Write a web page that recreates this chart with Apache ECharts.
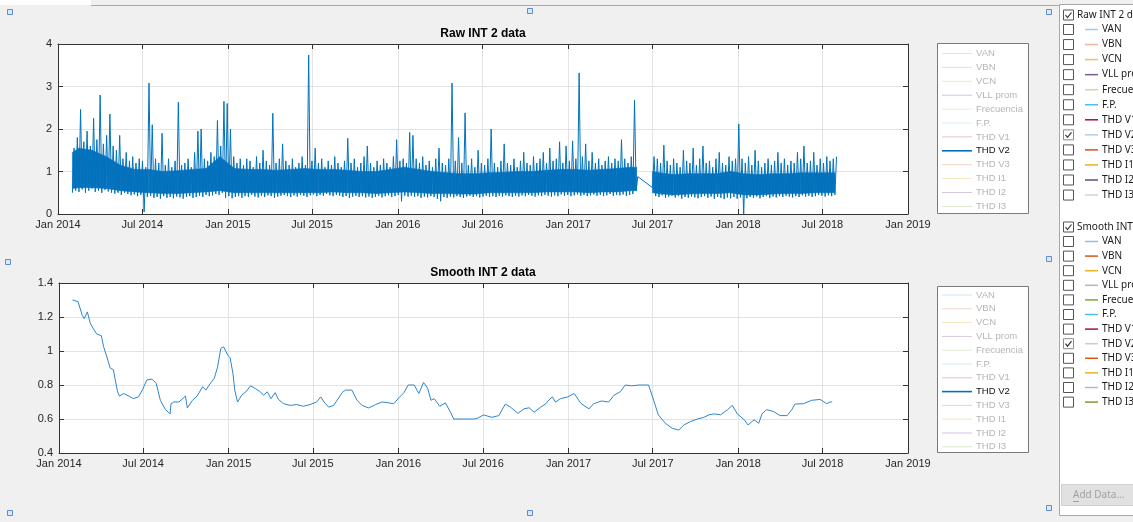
<!DOCTYPE html>
<html><head><meta charset="utf-8">
<script src="https://cdn.jsdelivr.net/npm/echarts@6/dist/echarts.min.js"></script>
<style>html,body{margin:0;padding:0;background:#f0f0f0;overflow:hidden}#c{width:1133px;height:522px}</style>
</head><body><div id="c"></div><script>
// ---------- DATA ----------
const xTickDates = ['2014-01-01','2014-07-01','2015-01-01','2015-07-01','2016-01-01','2016-07-01','2017-01-01','2017-07-01','2018-01-01','2018-07-01','2019-01-01'];
const xTickLabels = ['Jan 2014','Jul 2014','Jan 2015','Jul 2015','Jan 2016','Jul 2016','Jan 2017','Jul 2017','Jan 2018','Jul 2018','Jan 2019'];
const rawTitle = 'Raw INT 2 data';
const smoothTitle = 'Smooth INT 2 data';

// raw series, weekly low/high samples (segment A: from 2014-02-01, segment B: from 2017-07-01)
const rawStartA = '2014-02-01';
const rawLowA = [
 0.5,0.55,0.52,0.58,0.5,0.55,0.6,0.52,0.55,0.5,0.57,0.53,0.5,
 0.48,0.5,0.45,0.5,0.47,0.44,0.46,0.42,0.45,0.05,0.4,0.43,0.38,
 0.4,0.36,0.42,0.38,0.4,0.37,0.41,0.39,0.36,0.4,0.42,0.38,0.4,
 0.43,0.4,0.45,0.42,0.44,0.47,0.45,0.5,0.38,0.42,0.37,0.4,0.42,
 0.38,0.42,0.4,0.45,0.41,0.39,0.43,0.4,0.44,0.42,0.38,0.41,0.43,
 0.45,0.42,0.4,0.44,0.41,0.45,0.43,0.4,0.44,0.46,0.42,0.45,0.43,
 0.47,0.44,0.42,0.45,0.43,0.4,0.42,0.38,0.41,0.43,0.4,0.42,0.39,
 0.41,0.38,0.4,0.43,0.39,0.42,0.44,0.4,0.42,0.45,0.3,0.43,0.41,
 0.43,0.4,0.42,0.38,0.41,0.39,0.42,0.4,0.36,0.3,0.4,0.38,0.41,
 0.39,0.42,0.4,0.38,0.41,0.43,0.4,0.42,0.39,0.41,0.43,0.4,0.42,
 0.4,0.43,0.41,0.44,0.42,0.4,0.43,0.41,0.44,0.42,0.45,0.43,0.41,
 0.44,0.42,0.45,0.43,0.41,0.44,0.42,0.46,0.43,0.45,0.42,0.44,0.46,
 0.43,0.45,0.42,0.44,0.46,0.43,0.45,0.42,0.44,0.47,0.43,0.45,0.44,
 0.46,0.43,0.45,0.47,0.55];
const rawHighA = [
 1.55,1.8,2.46,1.7,1.95,1.6,2.25,1.75,2.8,1.65,1.85,2.35,1.6,
 1.5,1.85,1.3,1.45,1.25,1.35,1.2,1.3,1.25,1.1,3.08,2.1,1.3,
 1.2,1.9,1.15,1.3,1.1,1.25,2.63,1.15,1.2,1.3,1.1,1.45,1.95,
 2.0,1.3,1.25,1.45,1.35,2.2,1.6,2.65,2.6,2.0,1.35,1.2,1.3,
 1.15,1.3,1.25,1.1,1.35,1.2,1.5,1.25,1.15,2.37,1.2,1.3,1.65,
 1.25,1.15,1.3,1.1,1.2,1.35,1.15,3.74,1.25,1.55,1.2,1.3,1.1,
 1.25,1.15,1.35,1.2,1.1,1.25,1.78,1.2,1.3,1.1,1.2,1.35,1.6,
 1.2,1.1,1.25,1.15,1.3,1.2,1.1,1.35,1.75,1.25,1.3,1.2,1.92,
 1.85,1.3,1.2,1.35,1.15,1.25,1.1,1.3,1.55,1.2,1.15,1.3,3.08,
 1.25,1.8,1.2,2.38,1.15,1.3,1.1,1.5,1.2,1.15,1.3,2.0,1.2,
 1.1,1.25,1.65,1.2,1.15,1.3,1.1,1.25,1.45,1.2,1.15,1.35,1.2,
 1.3,1.45,1.2,1.55,1.25,1.3,1.7,1.2,1.6,1.25,1.72,1.3,3.32,
 1.35,1.65,1.25,1.45,1.2,1.3,1.15,1.25,1.35,1.2,1.3,1.25,1.75,
 1.3,1.2,1.35,2.68,0.88];
const rawStartB = '2017-07-01';
const rawLowB = [
 0.62,0.42,0.4,0.44,0.38,0.41,0.43,0.39,0.42,0.36,0.4,0.38,0.41,
 0.39,0.37,0.4,0.42,0.38,0.41,0.36,0.4,0.38,0.35,0.39,0.37,0.4,
 0.36,0.39,0.0,0.37,0.4,0.38,0.41,0.37,0.4,0.42,0.38,0.41,0.39,
 0.42,0.4,0.43,0.41,0.39,0.42,0.4,0.44,0.41,0.43,0.4,0.42,0.45,
 0.43,0.41,0.44,0.42,0.45];
const rawHighB = [
 1.35,1.3,1.2,1.62,1.25,1.15,1.3,1.2,1.1,1.5,1.25,1.2,1.55,
 1.15,1.3,1.6,1.2,1.25,1.1,1.3,1.45,1.2,1.15,1.35,1.25,1.3,
 2.12,1.3,1.2,1.35,1.15,1.5,1.25,1.1,1.2,1.3,1.15,1.25,1.45,
 1.2,1.3,1.15,1.25,1.2,1.45,1.3,1.6,1.2,1.25,1.45,1.15,1.3,
 1.2,1.35,1.25,1.3,1.35];

// dense core of the raw band (where the samples overlap into solid blue), monthly; null = no data
const rawCoreDates = [
 '2014-02-01','2014-02-15','2014-03-15','2014-04-15','2014-05-15','2014-06-15','2014-07-15','2014-08-15','2014-09-15','2014-10-15','2014-11-15','2014-12-15',
 '2015-01-15','2015-02-15','2015-03-15','2015-04-15','2015-05-15','2015-06-15','2015-07-15','2015-08-15','2015-09-15','2015-10-15','2015-11-15','2015-12-15',
 '2016-01-15','2016-02-15','2016-03-15','2016-04-15','2016-05-15','2016-06-15','2016-07-15','2016-08-15','2016-09-15','2016-10-15','2016-11-15','2016-12-15',
 '2017-01-15','2017-02-15','2017-03-15','2017-04-15','2017-05-15','2017-05-28','2017-06-15','2017-07-01','2017-07-15','2017-08-15','2017-09-15','2017-10-15','2017-11-15','2017-12-15',
 '2018-01-15','2018-02-15','2018-03-15','2018-04-15','2018-05-15','2018-06-15','2018-07-15','2018-07-28'];
const rawCoreLow = [
 0.6,0.62,0.62,0.6,0.55,0.52,0.5,0.48,0.48,0.5,0.52,0.55,
 0.5,0.5,0.5,0.5,0.5,0.5,0.5,0.52,0.5,0.5,0.48,0.5,
 0.52,0.5,0.48,0.48,0.47,0.47,0.5,0.5,0.5,0.5,0.52,0.52,
 0.52,0.5,0.52,0.52,0.55,0.55,null,0.5,0.48,0.45,0.47,0.48,0.48,0.5,
 0.45,0.45,0.47,0.48,0.48,0.5,0.5,0.5];
const rawCoreHigh = [
 1.45,1.55,1.5,1.35,1.15,1.05,1.05,1.0,1.02,1.05,1.07,1.35,
 1.07,1.05,1.05,1.03,1.05,1.07,1.05,1.05,1.03,1.0,1.0,1.05,
 1.1,1.05,1.0,0.97,0.95,0.95,0.97,0.98,1.0,1.0,1.03,1.05,
 1.05,1.03,1.05,1.07,1.1,1.1,null,1.0,0.97,0.93,0.95,0.95,0.95,1.0,
 0.95,0.93,0.95,0.95,0.97,0.97,0.97,0.97];

// smooth series
const smoothDates = [
 '2014-01-30','2014-02-11','2014-02-20','2014-02-24','2014-03-03','2014-03-09','2014-03-16','2014-03-23','2014-04-02','2014-04-07',
 '2014-04-14','2014-04-21','2014-04-28','2014-05-02','2014-05-07','2014-05-11','2014-05-20','2014-05-31','2014-06-10','2014-06-21',
 '2014-06-30','2014-07-09','2014-07-20','2014-07-29','2014-08-07','2014-08-18','2014-08-28','2014-08-30','2014-09-05','2014-09-16',
 '2014-09-30','2014-10-04','2014-10-15','2014-10-25','2014-11-06','2014-11-13','2014-11-20','2014-12-01','2014-12-08','2014-12-15',
 '2014-12-21','2014-12-30','2015-01-04','2015-01-10','2015-01-14','2015-01-20','2015-01-29','2015-02-07','2015-02-17','2015-02-27',
 '2015-03-10','2015-03-17','2015-03-25','2015-04-02','2015-04-11','2015-04-18','2015-04-29','2015-05-13','2015-05-27','2015-06-11',
 '2015-06-25','2015-07-09','2015-07-18','2015-07-25','2015-08-04','2015-08-15','2015-08-22','2015-09-02','2015-09-09','2015-09-23',
 '2015-10-04','2015-10-15','2015-10-29','2015-11-13','2015-11-27','2015-12-11','2015-12-22','2016-01-02','2016-01-13','2016-01-22',
 '2016-02-04','2016-02-14','2016-02-24','2016-03-04','2016-03-11','2016-03-18','2016-03-30','2016-04-11','2016-04-22','2016-04-29',
 '2016-05-20','2016-06-11','2016-06-18','2016-07-02','2016-07-20','2016-08-04','2016-08-18','2016-08-29','2016-09-14','2016-09-27',
 '2016-10-08','2016-10-19','2016-11-02','2016-11-13','2016-11-20','2016-11-27','2016-12-04','2016-12-15','2016-12-30','2017-01-13',
 '2017-01-28','2017-02-14','2017-02-24','2017-03-13','2017-03-28','2017-04-09','2017-04-22','2017-05-03','2017-05-17','2017-06-01',
 '2017-06-22','2017-07-03','2017-07-13','2017-07-28','2017-08-12','2017-08-26','2017-09-06','2017-09-20','2017-10-05','2017-10-19',
 '2017-10-30','2017-11-10','2017-11-24','2017-12-09','2017-12-19','2017-12-30','2018-01-14','2018-01-22','2018-02-04','2018-02-14',
 '2018-02-21','2018-03-03','2018-03-17','2018-04-01','2018-04-16','2018-04-26','2018-05-03','2018-05-21','2018-06-08','2018-06-26',
 '2018-07-10','2018-07-17','2018-07-22'];
const smoothValues = [
 1.30,1.29,1.21,1.19,1.23,1.165,1.13,1.10,1.09,1.025,
 0.965,0.90,0.89,0.83,0.76,0.735,0.75,0.735,0.72,0.73,
 0.775,0.83,0.835,0.81,0.71,0.655,0.63,0.69,0.70,0.70,
 0.735,0.665,0.71,0.735,0.79,0.77,0.80,0.84,0.905,1.015,
 1.025,0.975,0.96,0.87,0.77,0.70,0.74,0.76,0.795,0.78,
 0.76,0.74,0.76,0.72,0.755,0.715,0.69,0.68,0.685,0.675,
 0.685,0.70,0.73,0.70,0.67,0.68,0.71,0.755,0.77,0.77,
 0.71,0.68,0.665,0.685,0.70,0.695,0.69,0.725,0.755,0.80,
 0.80,0.75,0.815,0.78,0.71,0.72,0.675,0.695,0.64,0.60,
 0.60,0.60,0.603,0.624,0.61,0.62,0.688,0.67,0.633,0.66,
 0.666,0.64,0.67,0.69,0.712,0.73,0.70,0.72,0.73,0.75,
 0.69,0.66,0.69,0.706,0.70,0.74,0.76,0.80,0.795,0.80,
 0.80,0.71,0.624,0.575,0.545,0.535,0.565,0.585,0.60,0.61,
 0.625,0.63,0.625,0.655,0.68,0.63,0.595,0.565,0.595,0.575,
 0.63,0.655,0.645,0.62,0.62,0.655,0.688,0.69,0.71,0.715,
 0.69,0.70,0.70];

// legend / tree texts
const legendNames = ['VAN','VBN','VCN','VLL prom','Frecuencia','F.P.','THD V1','THD V2','THD V3','THD I1','THD I2','THD I3'];
const activeIndex = 7;
const legendColorsTop = ['#d6e6f3','#f4d8cc','#f6e6bf','#cfc5da','#e3eed5','#d5edf8','#e8c3cb','#0072BD','#f4d2c2','#f7e7c0','#d6c8e0','#dbe7cc'];
const legendColorsBottom = ['#d0e4f3','#f3d6c9','#f6e5bd','#d3cbdc','#e0ecd2','#d0ebf8','#e6c0c8','#0072BD','#f3cfbf','#f7e6bd','#d0c4dc','#d9e6c8'];
const treeTitles = ['Raw INT 2 data','Smooth INT 2 data'];
const treeColorsTop = ['#9fcbe9','#f0b59b','#efc15a','#7e5a94','#c5dba8','#4dbeee','#a2142f','#b5cde0','#d95319','#edb120','#6a4a7a','#d5d5c5'];
const treeColorsBottom = ['#8ec3e6','#d95319','#edb120','#b5b5b5','#77ac30','#4dbeee','#a2142f','#c0cfdc','#d95319','#edb120','#c9a9d6','#7f9a3a'];

// ---------- BUILD ----------
const DAY = 86400000;
const ts = s => +new Date(s + 'T00:00:00');
const tickVals = xTickDates.map(ts);
const X_MIN = tickVals[0], X_MAX = tickVals[tickVals.length - 1];

function zig(start, lows, highs) {
  const t0 = ts(start), out = [];
  for (let i = 0; i < lows.length; i++) {
    out.push([t0 + i * 7 * DAY, lows[i]]);
    out.push([t0 + i * 7 * DAY + 3.5 * DAY, highs[i]]);
  }
  return out;
}
const rawData = zig(rawStartA, rawLowA, rawHighA).concat(zig(rawStartB, rawLowB, rawHighB));
// core band as consecutive quads (one item per pair of neighbouring months)
const coreSegs = [];
for (let i = 0; i + 1 < rawCoreDates.length; i++) {
  if (rawCoreLow[i] == null || rawCoreLow[i + 1] == null) continue;
  coreSegs.push([ts(rawCoreDates[i]), rawCoreLow[i], rawCoreHigh[i], ts(rawCoreDates[i + 1]), rawCoreLow[i + 1], rawCoreHigh[i + 1]]);
}
const smoothData = smoothDates.map((d, i) => [ts(d), smoothValues[i]]);

const FONT = '"Liberation Sans", Arial, sans-serif';
const fmtX = v => { let best = -1, bd = Infinity; tickVals.forEach((t, k) => { const d = Math.abs(t - v); if (d < bd) { bd = d; best = k; } }); return bd < DAY ? xTickLabels[best] : ''; };

function xAx(grid, pos, labels) {
  return {
    type: 'value', gridIndex: grid, position: pos, min: X_MIN, max: X_MAX, scale: true,
    axisLine: { show: true, onZero: false, lineStyle: { color: '#333333', width: 1 } },
    axisTick: { show: true, inside: true, length: 5, customValues: tickVals, lineStyle: { color: '#333333' } },
    axisLabel: { show: labels, customValues: tickVals, formatter: fmtX, fontSize: 11, color: '#262626', fontFamily: FONT, margin: 5, hideOverlap: false, showMinLabel: true, showMaxLabel: true },
    splitLine: { show: labels, lineStyle: { color: '#e3e3e3', width: 1 } }
  };
}
function yAx(grid, pos, min, max, interval, labels) {
  return {
    type: 'value', gridIndex: grid, position: pos, min: min, max: max, interval: interval,
    axisLine: { show: true, onZero: false, lineStyle: { color: '#333333', width: 1 } },
    axisTick: { show: true, inside: true, length: 5, lineStyle: { color: '#333333' } },
    axisLabel: { show: labels, fontSize: 11, color: '#262626', fontFamily: FONT, margin: 6, formatter: v => String(Math.round(v * 10) / 10) },
    splitLine: { show: labels, lineStyle: { color: '#e3e3e3', width: 1 } }
  };
}

const g = [];
// window chrome
g.push({ type: 'rect', shape: { x: 0, y: 0, width: 91, height: 5 }, style: { fill: '#ffffff' } });
g.push({ type: 'line', shape: { x1: 91, y1: 5.5, x2: 1059, y2: 5.5 }, style: { stroke: '#a8a8a8', lineWidth: 1 } });
// selection handles
[[10,12],[530,11],[1049,12],[8,262],[1049,259],[10,513],[530,513],[1049,508]].forEach(p => {
  g.push({ type: 'rect', shape: { x: p[0] - 2.5, y: p[1] - 2.5, width: 5, height: 5 }, style: { fill: '#dce8f6', stroke: '#5b8fd0', lineWidth: 1 } });
});
// titles
g.push({ type: 'text', style: { x: 483, y: 34, text: rawTitle, font: 'bold 12px ' + FONT, fill: '#000', align: 'center', textAlign: 'center', verticalAlign: 'middle', textVerticalAlign: 'middle' } });
g.push({ type: 'text', style: { x: 483, y: 273, text: smoothTitle, font: 'bold 12px ' + FONT, fill: '#000', align: 'center', textAlign: 'center', verticalAlign: 'middle', textVerticalAlign: 'middle' } });

// legend boxes
function legendBox(y0, y1, first, step, colors) {
  g.push({ type: 'rect', shape: { x: 937.5, y: y0 + 0.5, width: 91, height: y1 - y0 }, style: { fill: '#ffffff', stroke: '#7a7a7a', lineWidth: 1 } });
  legendNames.forEach((n, i) => {
    const y = first + i * step;
    const act = i === activeIndex;
    g.push({ type: 'line', shape: { x1: 942, y1: y, x2: 972, y2: y }, style: { stroke: colors[i], lineWidth: act ? 1.6 : 1 } });
    g.push({ type: 'text', style: { x: 976, y: y, text: n, font: '9.5px ' + FONT, fill: act ? '#111' : '#b5b5b5', verticalAlign: 'middle', textVerticalAlign: 'middle' } });
  });
}
legendBox(43, 213, 53.5, 13.9, legendColorsTop);
legendBox(286, 452, 295, 13.8, legendColorsBottom);

// right-side panel
g.push({ type: 'rect', shape: { x: 1059.5, y: 4.5, width: 80, height: 511 }, style: { fill: '#ffffff', stroke: '#a8a8a8', lineWidth: 1 } });
function checkbox(x, y, checked, stroke) {
  g.push({ type: 'rect', shape: { x: x + 0.5, y: y + 0.5, width: 10, height: 10 }, style: { fill: '#ffffff', stroke: stroke, lineWidth: 1 } });
  if (checked) g.push({ type: 'polyline', shape: { points: [[x + 2.5, y + 5.5], [x + 4.5, y + 8], [x + 8.5, y + 3]] }, style: { stroke: '#333', lineWidth: 1.2, fill: null } });
}
function tree(title, headY, first, step, colors) {
  checkbox(1063, headY - 5.5, true, '#555');
  g.push({ type: 'text', style: { x: 1077, y: headY, text: title, font: '10px "Noto Sans", sans-serif', fill: '#1a1a1a', verticalAlign: 'middle', textVerticalAlign: 'middle' } });
  legendNames.forEach((n, i) => {
    const y = first + i * step;
    checkbox(1063, y - 5.5, i === activeIndex, i === activeIndex ? '#8a8a8a' : '#555');
    g.push({ type: 'line', shape: { x1: 1085, y1: y, x2: 1098, y2: y }, style: { stroke: colors[i], lineWidth: 1.5 } });
    g.push({ type: 'text', style: { x: 1102, y: y, text: n, font: '10px "Noto Sans", sans-serif', fill: '#1a1a1a', verticalAlign: 'middle', textVerticalAlign: 'middle' } });
  });
}
tree(treeTitles[0], 15, 29.5, 15.05, treeColorsTop);
tree(treeTitles[1], 227, 241.5, 14.6, treeColorsBottom);
// Add Data button
g.push({ type: 'rect', shape: { x: 1061.5, y: 484.5, width: 75, height: 21 }, style: { fill: '#e1e1e1', stroke: '#cfcfcf', lineWidth: 1 } });
g.push({ type: 'text', style: { x: 1073, y: 495, text: 'Add Data...', font: '10px "Noto Sans", sans-serif', fill: '#a2a2a2', verticalAlign: 'middle', textVerticalAlign: 'middle' } });
g.push({ type: 'line', shape: { x1: 1073, y1: 501.5, x2: 1079, y2: 501.5 }, style: { stroke: '#a2a2a2', lineWidth: 1 } });

const chart = echarts.init(document.getElementById('c'), null, { renderer: 'canvas', width: 1133, height: 522 });
chart.setOption({
  animation: false,
  backgroundColor: '#f0f0f0',
  grid: [
    { left: 58, top: 44, width: 850, height: 170, show: true, backgroundColor: '#ffffff', borderWidth: 0 },
    { left: 59, top: 283, width: 849, height: 170, show: true, backgroundColor: '#ffffff', borderWidth: 0 }
  ],
  xAxis: [xAx(0, 'bottom', true), xAx(0, 'top', false), xAx(1, 'bottom', true), xAx(1, 'top', false)],
  yAxis: [yAx(0, 'left', 0, 4, 1, true), yAx(0, 'right', 0, 4, 1, false), yAx(1, 'left', 0.4, 1.4, 0.2, true), yAx(1, 'right', 0.4, 1.4, 0.2, false)],
  series: [
    { type: 'custom', name: 'core', xAxisIndex: 0, yAxisIndex: 0, data: coreSegs, silent: true, z: 2, clip: true,
      encode: { x: [0, 3], y: [1, 2, 4, 5] },
      renderItem: function (params, api) {
        const a = api.coord([api.value(0), api.value(1)]);
        const b = api.coord([api.value(3), api.value(4)]);
        const c = api.coord([api.value(3), api.value(5)]);
        const d = api.coord([api.value(0), api.value(2)]);
        return { type: 'polygon', shape: { points: [a, b, c, d] }, style: { fill: '#0b73bd', stroke: '#0b73bd', lineWidth: 0.6 } };
      } },
    { type: 'line', name: 'THD V2 raw', xAxisIndex: 0, yAxisIndex: 0, data: rawData, showSymbol: false, symbol: 'none', sampling: null,
      lineStyle: { color: '#0072BD', width: 1 }, itemStyle: { color: '#0072BD' }, z: 3 },
    { type: 'line', name: 'THD V2 smooth', xAxisIndex: 2, yAxisIndex: 2, data: smoothData, showSymbol: false, symbol: 'none',
      lineStyle: { color: '#2f86cc', width: 1 }, itemStyle: { color: '#2f86cc' } }
  ],
  graphic: { elements: g }
});
</script></body></html>
